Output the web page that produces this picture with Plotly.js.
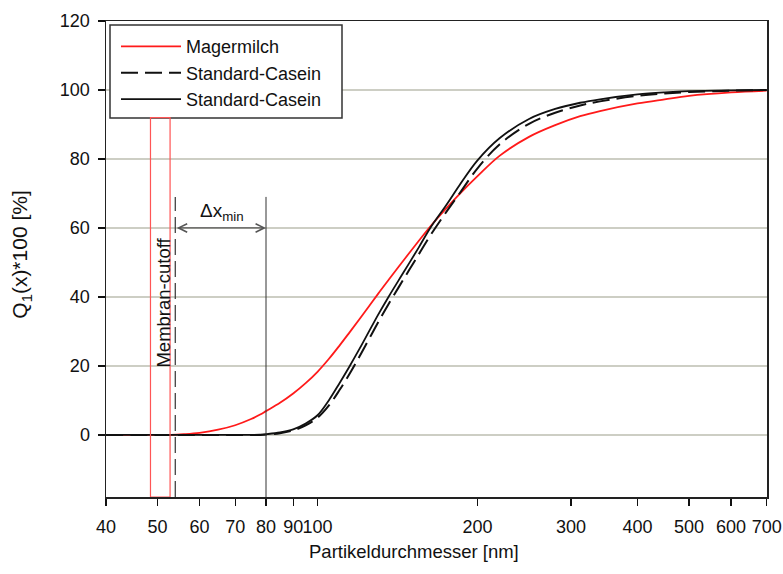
<!DOCTYPE html>
<html>
<head>
<meta charset="utf-8">
<script src="https://cdn.plot.ly/plotly-3.0.1.min.js"></script>
<style>
  html, body { margin: 0; padding: 0; background: #fff; }
  #plot { width: 783px; height: 574px; }
</style>
</head>
<body>
<div id="plot"></div>
<script>
// Cumulative particle size distributions Q1(x) in percent
const sizeNm = [40, 50, 53, 56, 60, 65, 70, 75, 78, 80, 85, 90, 95, 100, 105, 110, 115, 120, 125, 130, 136, 145, 155, 163, 175, 185, 200, 220, 250, 280, 312, 340, 400, 450, 500, 600, 700];

const magermilch = [0, 0, 0, 0.2, 0.6, 1.5, 2.8, 4.6, 5.9, 6.9, 9.3, 12.0, 15.0, 18.3, 22.0, 25.9, 29.8, 33.6, 37.3, 40.9, 44.9, 50.5, 56.2, 60.4, 65.8, 69.8, 75.0, 80.9, 86.4, 89.8, 92.4, 93.9, 96.1, 97.3, 98.3, 99.3, 99.8];

const caseinDashed = [0, 0, 0, 0, 0, 0, 0, 0, 0, 0.1, 0.5, 1.3, 2.8, 5.0, 8.5, 13.0, 17.8, 22.8, 27.8, 32.6, 37.9, 45.0, 52.3, 57.8, 64.8, 70.0, 77.3, 84.2, 90.2, 93.4, 95.5, 96.7, 98.3, 99.0, 99.4, 99.8, 100];

const caseinSolid = [0, 0, 0, 0, 0, 0, 0, 0, 0.05, 0.2, 0.7, 1.6, 3.3, 5.7, 10.0, 15.0, 20.0, 25.0, 30.0, 34.8, 40.0, 47.0, 54.3, 60.0, 66.8, 72.4, 79.6, 86.0, 91.6, 94.5, 96.3, 97.3, 98.7, 99.3, 99.65, 99.9, 100];

const seriesNames = ['Magermilch', 'Standard-Casein', 'Standard-Casein'];

// Axis ticks
const xTicks = [40, 50, 60, 70, 80, 90, 100, 200, 300, 400, 500, 600, 700];
const yTicks = [0, 20, 40, 60, 80, 100, 120];

// Membrane cutoff band, cutoff line and minimum size marker
const cutoffBand = [48.5, 52.8];
const cutoffBandTop = 92;
const cutoffLine = 54;
const minSizeLine = 80;
const markerTop = 69;
const arrowLevel = 60;

const yMin = -18, yMax = 120;
const font = 'Liberation Sans, Arial, sans-serif';

const traces = [
  {
    x: sizeNm, y: magermilch, name: seriesNames[0], mode: 'lines',
    line: { color: '#ff1a1a', width: 1.8, shape: 'spline', smoothing: 1 }
  },
  {
    x: sizeNm, y: caseinDashed, name: seriesNames[1], mode: 'lines',
    line: { color: '#111', width: 2, dash: '17px,7px', shape: 'spline', smoothing: 1 }
  },
  {
    x: sizeNm, y: caseinSolid, name: seriesNames[2], mode: 'lines',
    line: { color: '#111', width: 1.8, shape: 'spline', smoothing: 1 }
  }
];

const layout = {
  width: 783, height: 574,
  margin: { l: 106, r: 16, t: 21, b: 77 },
  paper_bgcolor: '#fff', plot_bgcolor: '#fff',
  font: { family: font, size: 18, color: '#111' },
  showlegend: true,
  legend: {
    x: 10 / 661, y: 0.985, xanchor: 'left', yanchor: 'top',
    bgcolor: 'rgba(0,0,0,0)', borderwidth: 0,
    font: { family: font, size: 18, color: '#111' },
    itemwidth: 60, tracegroupgap: 0
  },
  xaxis: {
    type: 'log',
    range: [Math.log10(40), Math.log10(701)],
    tickvals: xTicks, ticktext: xTicks.map(String), tickangle: 0,
    ticks: 'outside', ticklen: 7, tickwidth: 1.2, tickcolor: '#111',
    showline: true, linecolor: '#222', linewidth: 1.5, mirror: true,
    showgrid: false, zeroline: false,
    tickfont: { family: font, size: 18, color: '#111' },
    ticklabelstandoff: 6
  },
  yaxis: {
    range: [yMin, yMax],
    tickvals: yTicks,
    ticks: 'outside', ticklen: 7, tickwidth: 1.2, tickcolor: '#111',
    showline: true, linecolor: '#222', linewidth: 1.5, mirror: true,
    showgrid: true, gridcolor: '#cdcec4', gridwidth: 1.5,
    zeroline: false,
    tickfont: { family: font, size: 18, color: '#111' },
    ticklabelstandoff: 4
  },
  shapes: [
    // legend frame
    { type: 'rect', xref: 'paper', yref: 'paper', layer: 'above',
      x0: 4 / 661, x1: 236 / 661, y0: 1 - 97 / 475.7, y1: 1 - 4 / 475.7,
      line: { color: '#333', width: 1.5 }, fillcolor: '#fff' },
    { type: 'rect', xref: 'x', yref: 'y',
      x0: cutoffBand[0], x1: cutoffBand[1], y0: yMin, y1: cutoffBandTop,
      line: { color: '#ff5555', width: 1.2 }, fillcolor: 'rgba(0,0,0,0)' },
    { type: 'line', xref: 'x', yref: 'y',
      x0: cutoffLine, x1: cutoffLine, y0: yMin, y1: markerTop,
      line: { color: '#333', width: 1.2, dash: '16px,6px' } },
    { type: 'line', xref: 'x', yref: 'y',
      x0: minSizeLine, x1: minSizeLine, y0: yMin, y1: markerTop,
      line: { color: '#333', width: 1 } }
  ],
  annotations: [
    { xref: 'x', yref: 'y', axref: 'x', ayref: 'y',
      x: Math.log10(minSizeLine), y: arrowLevel,
      ax: Math.log10(cutoffLine), ay: arrowLevel,
      text: '', showarrow: true, arrowhead: 5, startarrowhead: 5,
      arrowside: 'end+start', arrowsize: 1.4, arrowwidth: 1.2, arrowcolor: '#555' },
    { xref: 'x', yref: 'y',
      x: Math.log10(66), y: 64.5, text: 'Δx<sub>min</sub>', showarrow: false,
      font: { family: font, size: 19, color: '#111' } },
    { xref: 'x', yref: 'y',
      x: Math.log10(51.3), y: 38.5, text: 'Membran-cutoff', textangle: -90, showarrow: false,
      font: { family: font, size: 18.5, color: '#111' } },
    { xref: 'paper', yref: 'paper', x: (414 - 106) / 661, y: -0.115, yanchor: 'middle',
      text: 'Partikeldurchmesser [nm]', showarrow: false,
      font: { family: font, size: 18.5, color: '#111' } },
    { xref: 'paper', yref: 'paper', x: -0.128, y: 0.51, xanchor: 'center',
      text: 'Q<sub>1</sub>(x)*100 [%]', textangle: -90, showarrow: false,
      font: { family: font, size: 21, color: '#111' } }
  ]
};

Plotly.newPlot('plot', traces, layout, { displayModeBar: false, staticPlot: true });
</script>
</body>
</html>
